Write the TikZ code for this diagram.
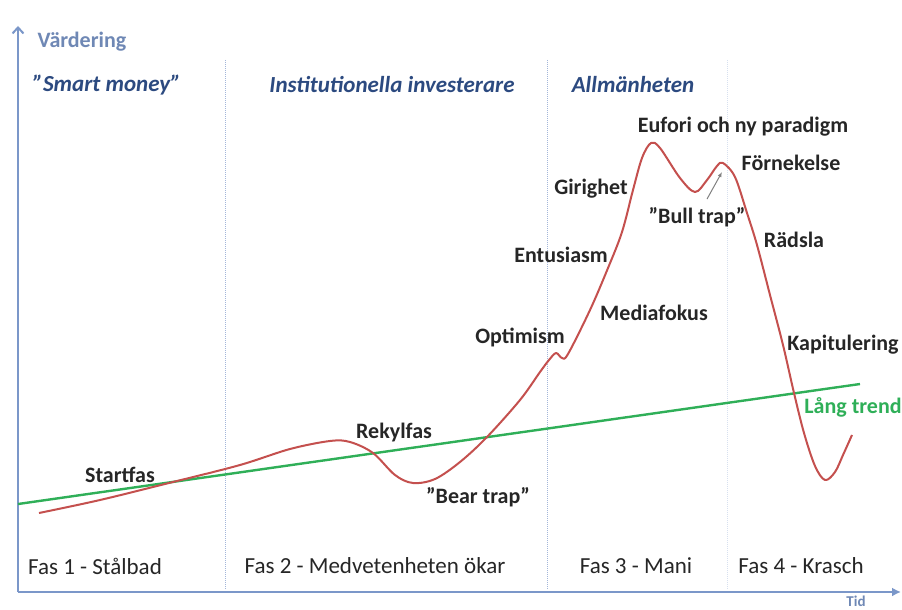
\documentclass[tikz,border=0pt]{standalone}
\usepackage{fontspec}
\setmainfont{Carlito}
\usetikzlibrary{arrows.meta}

\definecolor{axisblue}{HTML}{7B97C9}
\definecolor{grpblue}{HTML}{2C4A80}
\definecolor{curvered}{HTML}{C4504E}
\definecolor{trendgreen}{HTML}{2FAF58}

\begin{document}
\begin{tikzpicture}[x=1pt, y=-1pt,
    lbl/.style={inner sep=1pt, text=black!85, font=\bfseries\fontsize{22}{24}\selectfont},
    grp/.style={inner sep=1pt, text=grpblue, font=\bfseries\itshape\fontsize{23}{25}\selectfont},
    fas/.style={inner sep=1pt, text=black!85, font=\fontsize{23}{25}\selectfont},
    divider/.style={axisblue!70, densely dotted, line width=1pt}]
    \useasboundingbox (0,0) rectangle (902,610);

    % Axes
    \draw[axisblue, line width=2pt, -{Straight Barb[length=6pt, width=11pt]}] (18,592) -- (18,26);
    \draw[axisblue, line width=2pt, -{Latex[length=9pt, width=9pt]}] (18,592) -- (901,592);
    \node[lbl, text=axisblue!90!black] (vard) at (82,42) {Värdering};
    \node[lbl, text=axisblue!90!black, font=\bfseries\fontsize{15}{16}\selectfont] (tid) at (856,601) {Tid};

    % Phase dividers
    \foreach \x/\c in {225/70, 547/70, 727/30}
        \draw[divider, axisblue!\c] (\x,60) -- (\x,590);

    % Who is buying
    \node[grp] (smart) at (107,85) {”Smart money”};
    \node[grp] (inst) at (392,85) {Institutionella investerare};
    \node[grp] (allm) at (633,85) {Allmänheten};

    % Phases
    \node[fas] (fas1) at (95,566) {Fas 1 - Stålbad};
    \node[fas] (fas2) at (375,566) {Fas 2 - Medvetenheten ökar};
    \node[fas] (fas3) at (636,566) {Fas 3 - Mani};
    \node[fas] (fas4) at (801,566) {Fas 4 - Krasch};

    % Long trend
    \coordinate (t0) at (18,504);
    \coordinate (t1) at (860,384);
    \draw[trendgreen, line width=2.4pt] (t0) -- (t1);
    \node[lbl, text=trendgreen] (trend) at (853,407) {Lång trend};

    % Valuation curve
    \draw[curvered, line width=2pt, line join=round] plot[smooth, tension=0.55] coordinates {
        (39,513) (100,500) (173,482) (240,465) (290,449) (330,441) (350,442)
        (373,453) (395,475) (413,483) (435,479) (460,462) (487,437) (520,400)
        (540,372) (549,360) (556,353) (562,358) (568,354) (590,310) (608,268)
        (622,232) (633,190) (642,158) (651,143) (660,148) (680,178) (695,192)
        (707,180) (717,166) (723,163) (735,177) (747,213) (757,245) (770,295)
        (783,345) (794,393) (804,433) (815,466) (825,480) (835,472) (843,455)
        (852,435)};

    % Labels along the curve
    \node[lbl] (start) at (120,475) {Startfas};
    \node[lbl] (rekyl) at (394,433) {Rekylfas};
    \node[lbl] (bear) at (478,497) {”Bear trap”};
    \node[lbl] (optim) at (520,337) {Optimism};
    \node[lbl] (entus) at (561,255) {Entusiasm};
    \node[lbl] (media) at (654,313) {Mediafokus};
    \node[lbl] (girig) at (591,189) {Girighet};
    \node[lbl] (eufori) at (743,127) {Eufori och ny paradigm};
    \node[lbl] (forn) at (791,163) {Förnekelse};
    \node[lbl] (bull) at (697,217) {”Bull trap”};
    \node[lbl] (radsla) at (794,240) {Rädsla};
    \node[lbl] (kapit) at (843,345) {Kapitulering};

    \coordinate (bullpeak) at (722,172);
    \draw[gray, line width=1pt, -{Latex[length=5pt, width=4pt]}] ([shift={(10,-7)}]bull.north) -- (bullpeak);
\end{tikzpicture}
\end{document}
